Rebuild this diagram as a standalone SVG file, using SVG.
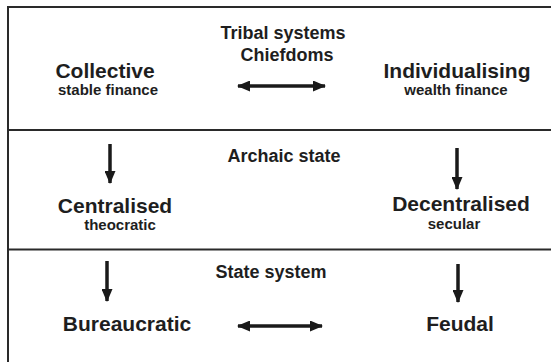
<svg xmlns="http://www.w3.org/2000/svg" width="551" height="362" viewBox="0 0 551 362">
<defs>
<style>
.frame{stroke:#2a2a2a;stroke-width:2;fill:none}
.arr{stroke:#1a1a1a;stroke-width:3.5;fill:none}
.big{font-family:"Liberation Sans",Arial,sans-serif;font-weight:bold;font-size:21px;fill:#1e1e1e;text-anchor:middle}
.mid{font-family:"Liberation Sans",Arial,sans-serif;font-weight:bold;font-size:18px;fill:#1e1e1e;text-anchor:middle}
.small{font-family:"Liberation Sans",Arial,sans-serif;font-weight:bold;font-size:15px;fill:#1e1e1e;text-anchor:middle}
</style>
<marker id="head" viewBox="0 0 13 11" refX="12" refY="5.5" markerWidth="13" markerHeight="11" markerUnits="userSpaceOnUse" orient="auto-start-reverse">
<path d="M0,0 L13,5.5 L0,11 z" fill="#1a1a1a"/>
</marker>
</defs>
<rect width="551" height="362" fill="#ffffff"/>
<g id="frame">
<path class="frame" d="M8,362 V7 H551 M8,130 H551 M8,249.5 H551"/>
</g>
<g id="connectors">
<line class="arr" x1="238" y1="86" x2="325" y2="86" marker-start="url(#head)" marker-end="url(#head)"/>
<line class="arr" x1="110" y1="144" x2="110" y2="183" marker-end="url(#head)"/>
<line class="arr" x1="457" y1="148" x2="457" y2="189" marker-end="url(#head)"/>
<line class="arr" x1="107" y1="261" x2="107" y2="301" marker-end="url(#head)"/>
<line class="arr" x1="458" y1="264" x2="458" y2="302" marker-end="url(#head)"/>
<line class="arr" x1="238" y1="326" x2="322" y2="326" marker-start="url(#head)" marker-end="url(#head)"/>
</g>
<g id="tribal">
<text class="mid" x="283" y="39">Tribal systems</text>
<text class="mid" x="287" y="61">Chiefdoms</text>
</g>
<g id="collective">
<text class="big" x="105" y="78">Collective</text>
<text class="small" x="108" y="95">stable finance</text>
</g>
<g id="individualising">
<text class="big" x="457" y="78">Individualising</text>
<text class="small" x="456" y="95">wealth finance</text>
</g>
<g id="archaic">
<text class="mid" x="284" y="162">Archaic state</text>
</g>
<g id="centralised">
<text class="big" x="115" y="213">Centralised</text>
<text class="small" x="120" y="230">theocratic</text>
</g>
<g id="decentralised">
<text class="big" x="461" y="211">Decentralised</text>
<text class="small" x="454" y="229">secular</text>
</g>
<g id="state">
<text class="mid" x="271" y="278">State system</text>
</g>
<g id="bureaucratic">
<text class="big" x="127" y="331">Bureaucratic</text>
</g>
<g id="feudal">
<text class="big" x="460" y="331">Feudal</text>
</g>
</svg>
